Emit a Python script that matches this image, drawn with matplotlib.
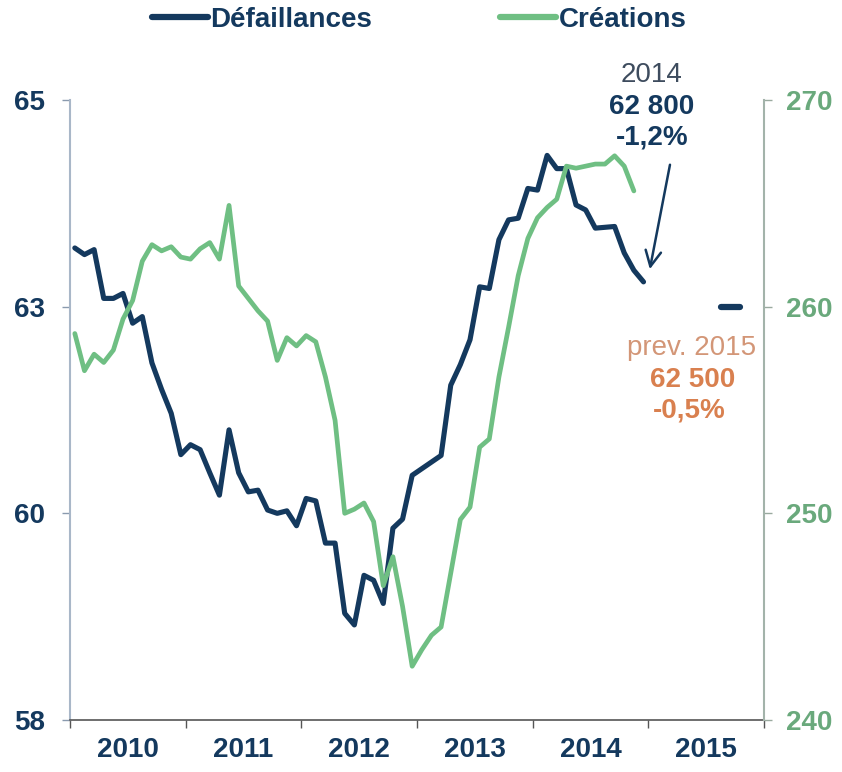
import matplotlib
matplotlib.use("Agg")
import matplotlib.pyplot as plt
from matplotlib.lines import Line2D

# ======================================================
# DATA (thousands, monthly from Jan 2010)
# ======================================================
YEARS = [2010, 2011, 2012, 2013, 2014, 2015]

DEFAILLANCES = [
    63.21, 63.13, 63.19, 62.60, 62.60, 62.66, 62.30, 62.38, 61.82, 61.50, 61.21, 60.71,
    60.83, 60.77, 60.49, 60.22, 61.01, 60.49, 60.26, 60.28, 60.04, 60.00, 60.03, 59.85,
    60.18, 60.15, 59.64, 59.64, 58.79, 58.65, 59.25, 59.19, 58.91, 59.82, 59.93, 60.46,
    60.54, 60.62, 60.70, 61.55, 61.80, 62.10, 62.74, 62.72, 63.31, 63.55, 63.57, 63.93,
    63.91, 64.33, 64.17, 64.17, 63.73, 63.67, 63.45, 63.46, 63.47, 63.15, 62.94, 62.80,
]

CREATIONS = [
    258.7, 256.9, 257.7, 257.3, 257.9, 259.4, 260.3, 262.2, 263.0, 262.7, 262.9, 262.4,
    262.3, 262.8, 263.1, 262.3, 264.9, 261.0, 260.4, 259.8, 259.3, 257.4, 258.5, 258.1,
    258.6, 258.3, 256.6, 254.5, 250.0, 250.2, 250.5, 249.6, 246.5, 247.9, 245.5, 242.6,
    243.4, 244.1, 244.5, 247.1, 249.7, 250.3, 253.2, 253.6, 256.6, 259.0, 261.5, 263.3,
    264.3, 264.8, 265.2, 266.8, 266.7, 266.8, 266.9, 266.9, 267.3, 266.8, 265.6,
]

PREV_2015 = 62.5

LEFT_TICKS = [57.5, 60, 62.5, 65]
LEFT_LABELS = ["58", "60", "63", "65"]
RIGHT_TICKS = [240, 250, 260, 270]

# ======================================================
# STYLE
# ======================================================
NAVY = "#14395e"
GREEN = "#6fbf83"
GREEN_TXT = "#6aa97c"
ORANGE = "#d9804f"
ORANGE_LIGHT = "#d39677"

plt.rcParams["font.family"] = ["Liberation Sans", "DejaVu Sans"]
FS = 20

fig = plt.figure(figsize=(8.42, 7.72), dpi=100)
ax = fig.add_axes([70 / 842, 1 - 720 / 772, 694 / 842, 620 / 772])
ax2 = ax.twinx()

months_d = list(range(len(DEFAILLANCES)))
months_c = list(range(len(CREATIONS)))

ax.plot(months_d, DEFAILLANCES, color=NAVY, lw=3.7, solid_joinstyle="round",
        solid_capstyle="round", zorder=3)
ax2.plot(months_c, CREATIONS, color=GREEN, lw=3.4, solid_joinstyle="round",
         solid_capstyle="round", zorder=3)

# forecast 2015 dash
i15 = 12 * YEARS.index(2015)
ax.plot([i15 + 7, i15 + 9], [PREV_2015, PREV_2015], color=NAVY, lw=4.5,
        solid_capstyle="round", zorder=3)

# ======================================================
# AXES
# ======================================================
n_months = 12 * len(YEARS)
ax.set_xlim(-0.5, n_months - 0.5)
ax.set_ylim(57.5, 65)
ax2.set_ylim(240, 270)

ax.set_xticks([12 * k - 0.5 for k in range(len(YEARS) + 1)])
ax.set_xticklabels([])
ax.set_xticks([12 * k + 5.5 for k in range(len(YEARS))], minor=True)
ax.set_xticklabels([str(y) for y in YEARS], minor=True)
ax.tick_params(axis="x", which="major", direction="out", length=6, width=1,
               color="#555555")
ax.tick_params(axis="x", which="minor", length=0, pad=12, labelsize=FS,
               labelcolor=NAVY)
for t in ax.get_xticklabels(minor=True):
    t.set_fontweight("bold")

ax.set_yticks(LEFT_TICKS)
ax.set_yticklabels(LEFT_LABELS)
ax.tick_params(axis="y", direction="out", length=6, width=1, color="#8a9aae",
               labelsize=FS, labelcolor=NAVY, pad=12)
for t in ax.get_yticklabels():
    t.set_fontweight("bold")

ax2.set_yticks(RIGHT_TICKS)
ax2.tick_params(axis="y", direction="out", length=6, width=1, color="#9aaa9f",
                labelsize=FS, labelcolor=GREEN_TXT, pad=10)
for t in ax2.get_yticklabels():
    t.set_fontweight("bold")

for a in (ax, ax2):
    a.spines["top"].set_visible(False)
    a.set_facecolor("none")
ax.spines["right"].set_visible(False)
ax.spines["left"].set_color("#a9b7c8")
ax.spines["left"].set_linewidth(1.5)
ax.spines["bottom"].set_color("#555555")
ax.spines["bottom"].set_linewidth(1.2)
ax2.spines["left"].set_visible(False)
ax2.spines["bottom"].set_visible(False)
ax2.spines["right"].set_color("#a3b3aa")
ax2.spines["right"].set_linewidth(1.5)

# ======================================================
# ANNOTATIONS
# ======================================================
ax.text(0.8386, 1.040, "2014", transform=ax.transAxes, ha="center", va="center",
        fontsize=FS, color="#3e4c5e")
ax.text(0.8386, 0.989, "62 800", transform=ax.transAxes, ha="center", va="center",
        fontsize=FS, color=NAVY, fontweight="bold")
ax.text(0.8386, 0.939, "-1,2%", transform=ax.transAxes, ha="center", va="center",
        fontsize=FS, color=NAVY, fontweight="bold")
ax.annotate("", xy=(59.6, 62.92), xytext=(61.8, 64.25),
            arrowprops=dict(arrowstyle="->", color=NAVY, lw=1.8,
                            mutation_scale=28))

ax.text(0.895, 0.600, "prev. 2015", transform=ax.transAxes, ha="center",
        va="center", fontsize=FS, color=ORANGE_LIGHT)
ax.text(0.897, 0.548, "62 500", transform=ax.transAxes, ha="center",
        va="center", fontsize=FS, color=ORANGE, fontweight="bold")
ax.text(0.893, 0.500, "-0,5%", transform=ax.transAxes, ha="center",
        va="center", fontsize=FS, color=ORANGE, fontweight="bold")

# ======================================================
# LEGEND
# ======================================================
handles = [
    Line2D([0], [0], color=NAVY, lw=4.5, solid_capstyle="round"),
    Line2D([0], [0], color=GREEN, lw=4.5, solid_capstyle="round"),
]
leg = fig.legend(handles, ["Défaillances", "Créations"], loc="center",
                 bbox_to_anchor=(0.498, 1 - 20 / 772), ncol=2, frameon=False,
                 handlelength=2.0, handletextpad=0.1, columnspacing=4.6,
                 prop={"size": FS, "weight": "bold"})
for txt in leg.get_texts():
    txt.set_color(NAVY)

fig.savefig("out.png", dpi=100)
